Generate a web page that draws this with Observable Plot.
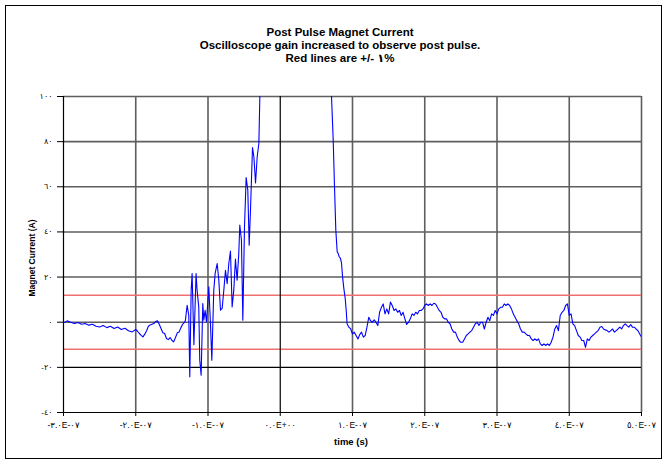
<!DOCTYPE html>
<html><head><meta charset="utf-8">
<script src="https://cdn.jsdelivr.net/npm/d3@7"></script>
<script src="https://cdn.jsdelivr.net/npm/@observablehq/plot@0.6"></script>
<style>
body{margin:0;background:#fff;}
#wrap{position:relative;width:669px;height:466px;background:#fff;font-family:"Liberation Sans",Arial,"DejaVu Sans",sans-serif;overflow:hidden;}
#frame{position:absolute;left:5px;top:5px;width:657px;height:454px;border:1px solid #000;box-sizing:border-box;}
#title{position:absolute;left:0;top:26px;width:680px;text-align:center;font-weight:bold;font-size:11.5px;line-height:13px;}
#ylab{position:absolute;left:-68px;top:252px;width:200px;text-align:center;font-weight:bold;font-size:8.5px;line-height:12px;transform:rotate(-90deg);}
#xlab{position:absolute;left:251px;top:436px;width:200px;text-align:center;font-weight:bold;font-size:9.5px;line-height:12px;}
#chart{position:absolute;left:0;top:0;}
</style></head>
<body>
<div id="wrap">
  <div id="frame"></div>
  <div id="chart"></div>
  <div id="title">Post Pulse Magnet Current<br>Oscilloscope gain increased to observe post pulse.<br>Red lines are +/- ١%</div>
  <div id="ylab">Magnet Current (A)</div>
  <div id="xlab">time (s)</div>
</div>
<script>
// time in units of 1e-7 s
const timeE7 = [
-3.00,-2.95,-2.90,-2.85,-2.80,-2.75,-2.70,-2.65,-2.60,-2.55,-2.50,-2.45,-2.40,-2.35,-2.30,-2.25,-2.20,-2.15,-2.10,-2.05,
-2.00,-1.975,-1.95,-1.925,-1.90,-1.875,-1.85,-1.825,-1.80,-1.775,-1.75,-1.725,-1.70,-1.675,-1.65,-1.625,-1.60,-1.575,-1.55,-1.525,
-1.50,-1.475,-1.45,-1.425,-1.40,-1.375,-1.35,-1.325,
-1.312,-1.289,-1.266,-1.252,-1.233,-1.220,-1.195,-1.165,-1.151,-1.128,-1.114,-1.095,-1.072,-1.058,-1.040,-1.021,-0.989,-0.966,-0.947,-0.920,
-0.901,-0.873,-0.850,-0.827,-0.804,-0.781,-0.758,-0.735,-0.712,-0.689,-0.666,-0.643,-0.620,-0.597,-0.574,-0.560,-0.537,-0.518,-0.495,-0.472,
-0.449,-0.430,-0.412,-0.384,-0.365,-0.342,-0.319,-0.296,-0.282,-0.27,0.2,0.69,
0.709,0.733,0.751,0.769,0.788,0.802,0.816,0.834,0.848,0.862,0.880,0.899,0.913,
0.925,0.95,0.975,1.00,1.025,1.05,1.075,1.10,1.125,1.15,1.175,1.20,1.225,1.25,1.275,1.30,1.325,1.35,1.375,1.40,
1.425,1.45,1.475,1.50,1.525,1.55,1.575,1.60,1.625,1.65,1.675,1.70,1.725,1.75,1.775,1.80,1.825,1.85,1.875,1.90,
1.925,1.95,1.975,2.00,2.025,2.05,2.075,2.10,2.125,2.15,2.175,2.20,2.225,2.25,2.275,2.30,2.325,2.35,2.375,2.40,
2.425,2.45,2.475,2.50,2.525,2.55,2.575,2.60,2.625,2.65,2.675,2.70,2.725,2.75,2.775,2.80,2.825,2.85,2.875,2.90,
2.925,2.95,2.975,3.00,3.025,3.05,3.075,3.10,3.125,3.15,3.175,3.20,3.225,3.25,3.275,3.30,3.325,3.35,3.375,3.40,
3.425,3.45,3.475,3.50,3.525,3.55,3.575,3.60,3.625,3.65,3.675,3.70,3.725,3.75,3.775,3.80,3.825,3.85,3.875,3.90,
3.925,3.95,3.975,4.00,4.025,4.05,4.075,4.10,4.125,4.15,4.175,4.20,4.225,4.25,4.275,4.30,4.325,4.35,4.375,4.40,
4.425,4.45,4.475,4.50,4.525,4.55,4.575,4.60,4.625,4.65,4.675,4.70,4.725,4.75,4.775,4.80,4.825,4.85,4.875,4.90,
4.925,4.95,4.975,5.00
];
// magnet current in A
const currentA = [
-0.3,0.6,0,-0.6,-0.1,-0.9,-0.6,-1.3,-0.9,-1.8,-2.1,-1.5,-2.4,-1.8,-2.8,-2.1,-3.2,-2.7,-3.8,-4.3,
-3.2,-4.0,-5.0,-5.8,-6.5,-5.3,-3.8,-1.8,-1.2,-0.9,-0.6,0.3,0.6,-0.9,-2.8,-4.7,-5.0,-7.2,-7.7,-6.8,
-8.0,-8.7,-6.8,-4.7,-4.3,-2.4,-0.9,0,
0.9,7.5,3.1,-24.2,14.2,21.6,-10,21.6,14.2,6.8,-16.8,-23.5,8.3,0.9,5.3,0.1,15.7,-0.6,-16.8,14.2,
21.6,26.0,18.6,5.3,6.1,14.2,23.0,17.1,26.0,31.5,6.8,14.2,28,18.6,30.4,43,36.3,0.9,42,64.1,
58.5,34.1,49.6,77.4,73.3,61.7,73.3,79.2,100.6,118,400,116,
100.6,80.6,60,40.8,31.2,30.5,29,28.3,26.2,20.3,15,10.5,5.3,
-0.7,-2.2,-3.0,-5.2,-4.4,-5.9,-7.4,-5.5,-4.4,-6.6,-5.9,-2.2,2.2,0.7,0,1.0,0,-1.5,4.4,6.6,
8.1,3.7,5.9,3.7,8.9,7.4,5.2,5.9,4.4,5.2,3.0,4.4,1.5,-1.0,0,1.5,3.7,3.0,4.4,3.7,
5.2,5.2,5.9,7.4,8.1,7.4,8.1,7.4,8.4,8.1,6.6,5.2,4.4,2.2,1.5,1.5,0,-0.7,-3.0,-4.4,
-4.4,-6.6,-8.1,-8.9,-8.9,-7.4,-5.9,-5.2,-4.4,-3.7,-2.2,-0.7,0,-1.5,0,0,-3.0,0,2.2,0.7,
3.7,3.0,5.2,3.7,5.9,6.6,6.6,8.1,7.4,8.1,7.4,5.9,3.7,2.2,0.7,-0.7,-3.0,-4.4,-4.4,-5.2,
-5.9,-5.9,-7.4,-8.1,-7.4,-8.1,-7.4,-9.6,-10.3,-9.6,-10.3,-9.6,-10.3,-8.9,-6.6,-3.0,-1.5,-3.7,3.0,4.4,
5.2,7.4,8.1,3.0,3.7,-0.7,-1.5,-3.7,-5.9,-6.6,-8.1,-8.1,-11.1,-7.4,-8.1,-6.6,-5.9,-5.2,-4.4,-3.7,
-2.2,-1.9,-3.0,-3.4,-3.7,-4.4,-3.7,-3.0,-4.4,-3.7,-3.0,-2.2,-3.0,-1.5,-0.7,-1.5,-2.2,-1.0,-2.2,-2.2,
-3.0,-3.7,-5.2,-6.6
];
const redLimits = [12, -12];
const yTicks = [-40, -20, 0, 20, 40, 60, 80, 100];
const yTickLabels = ["-٤٠","-٢٠","٠","٢٠","٤٠","٦٠","٨٠","١٠٠"];
const xTicks = [-3, -2, -1, 0, 1, 2, 3, 4, 5];
const xTickLabels = ["-٣.٠E-٠٧","-٢.٠E-٠٧","-١.٠E-٠٧","٠.٠E+٠٠","١.٠E-٠٧","٢.٠E-٠٧","٣.٠E-٠٧","٤.٠E-٠٧","٥.٠E-٠٧"];

const data = timeE7.map((t, i) => ({t, v: currentA[i]}));
const grey = "#5e5e5e";
const chart = Plot.plot({
  width: 669, height: 466,
  marginLeft: 63, marginRight: 28, marginTop: 96, marginBottom: 54,
  x: {domain: [-3, 5]},
  y: {domain: [-40, 100]},
  style: {fontFamily: '"Liberation Sans", Arial, "DejaVu Sans", sans-serif', fontSize: "8.5px", background: "transparent", color: "#000"},
  marks: [
    Plot.ruleY(yTicks.filter(d => d !== -20 && d !== -40), {stroke: grey, strokeWidth: 1.6}),
    Plot.ruleX(xTicks.filter(d => d !== 0 && d !== -3), {stroke: grey, strokeWidth: 1.6}),
    Plot.ruleY(redLimits, {stroke: "#f07070", strokeWidth: 1.5}),
    Plot.ruleY([-20, -40], {stroke: "#000", strokeWidth: 1.2}),
    Plot.ruleX([0, -3], {stroke: "#000", strokeWidth: 1.2}),
    Plot.line(data, {x: "t", y: "v", stroke: "#0000ff", strokeWidth: 1.1, clip: true}),
    Plot.axisY(yTicks, {anchor: "left", tickSize: 6, tickPadding: 5, label: null, fontSize: 8,
      tickFormat: d => yTickLabels[yTicks.indexOf(d)]}),
    Plot.axisX(xTicks, {anchor: "bottom", tickSize: 4, tickPadding: 5, label: null, fontSize: 8.5,
      tickFormat: d => xTickLabels[xTicks.indexOf(d)]})
  ]
});
document.getElementById("chart").appendChild(chart);
</script>
</body></html>
